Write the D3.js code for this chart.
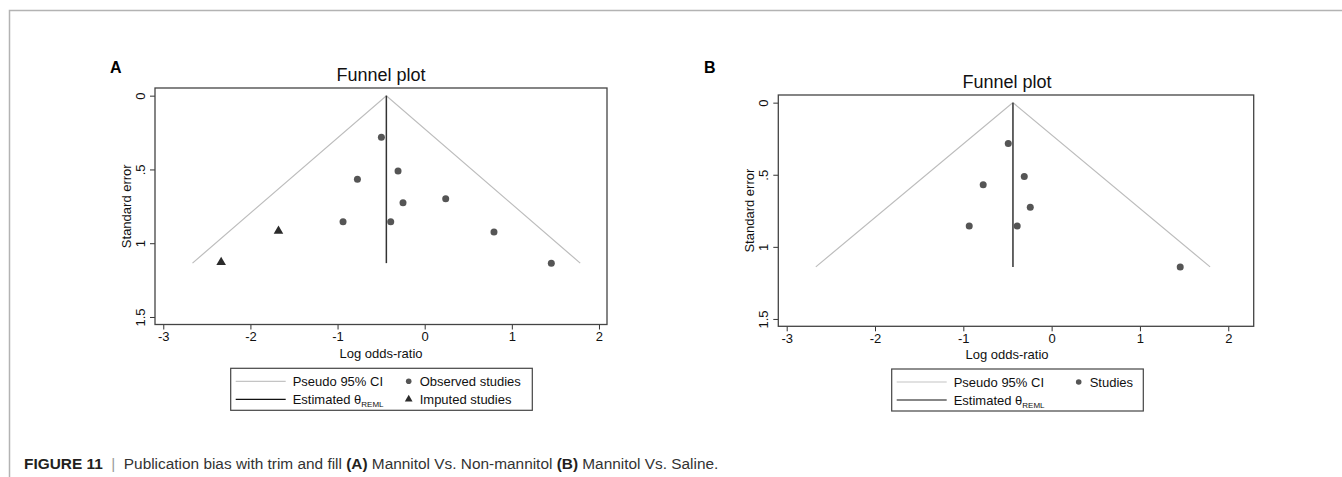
<!DOCTYPE html>
<html>
<head>
<meta charset="utf-8">
<script src="https://cdn.jsdelivr.net/npm/d3@7"></script>
<style>
  body { margin: 0; background: #fff; }
  svg text { font-family: "Liberation Sans", Arial, Helvetica, sans-serif; }
</style>
</head>
<body>
<script>
'use strict';

// tick values and labels shared by both panels
const xTicks = [-3, -2, -1, 0, 1, 2];
const yTicks = [0, 0.5, 1, 1.5];
const yTickLabels = ["0", ".5", "1", "1.5"];

// panel A: observed and imputed studies (log odds-ratio, standard error)
const obsALor = [-0.497, -0.306, -0.772, -0.249, 0.241, -0.937, -0.390, 0.795, 1.453];
const obsASe = [0.282, 0.510, 0.567, 0.725, 0.698, 0.854, 0.854, 0.924, 1.135];
const impALor = [-1.678, -2.336];
const impASe = [0.917, 1.129];

// panel B: studies
const obsBLor = [-0.491, -0.310, -0.775, -0.242, -0.933, -0.390, 1.456];
const obsBSe = [0.284, 0.513, 0.569, 0.726, 0.855, 0.855, 1.139];

// pooled estimate and funnel extent
const thetaA = -0.44;
const thetaB = -0.438;
const seMaxA = 1.135;
const seMaxB = 1.139;
const ciZ = 1.96;

const legendA = [["Pseudo 95% CI", "ci"], ["Observed studies", "circle"], ["Estimated θ", "theta"], ["Imputed studies", "triangle"]];
const legendB = [["Pseudo 95% CI", "ci"], ["Studies", "circle"], ["Estimated θ", "theta"]];

const caption = [
  ["FIGURE 11", "bold", "#231f20"],
  ["  |  ", "normal", "#999"],
  ["Publication bias with trim and fill ", "normal", "#333"],
  ["(A)", "bold", "#231f20"],
  [" Mannitol Vs. Non-mannitol ", "normal", "#333"],
  ["(B)", "bold", "#231f20"],
  [" Mannitol Vs. Saline.", "normal", "#333"]
];

const svg = d3.select('body').append('svg')
  .attr('width', 1342)
  .attr('height', 477);

// outer frame (top and left rules)
svg.append('path')
  .attr('d', 'M9.5,477 V10.5 H1342')
  .attr('fill', 'none')
  .attr('stroke', '#b3b3b3')
  .attr('stroke-width', 1.5);

function drawPanel(cfg) {
  const g = svg.append('g');
  const x = d3.scaleLinear().domain(cfg.xDomain).range([cfg.left, cfg.right]);
  const y = d3.scaleLinear().domain(cfg.yDomain).range([cfg.top, cfg.bottom]);

  // panel letter
  g.append('text')
    .attr('x', cfg.letterX).attr('y', cfg.letterY)
    .style('font-size', '16px').style('font-weight', 'bold')
    .text(cfg.letter);

  // title
  g.append('text')
    .attr('x', cfg.titleX).attr('y', cfg.top - 7)
    .attr('text-anchor', 'middle')
    .style('font-size', '18px').attr('fill', '#111')
    .text('Funnel plot');

  // x axis
  const xAxis = d3.axisBottom(x).tickValues(xTicks).tickSize(5).tickPadding(2)
    .tickFormat(d3.format('d'));
  const gx = g.append('g')
    .attr('transform', 'translate(0,' + cfg.bottom + ')')
    .call(xAxis);
  gx.select('.domain').remove();
  gx.selectAll('line').attr('stroke', '#333');
  gx.selectAll('text').style('font-size', '13px').attr('fill', '#111')
    .text(d => d < 0 ? '-' + Math.abs(d) : d);

  // y axis
  const yAxis = d3.axisLeft(y).tickValues(yTicks).tickSize(5).tickPadding(3)
    .tickFormat((d, i) => yTickLabels[i]);
  const gy = g.append('g')
    .attr('transform', 'translate(' + cfg.left + ',0)')
    .call(yAxis);
  gy.select('.domain').remove();
  gy.selectAll('line').attr('stroke', '#333');
  gy.selectAll('text')
    .style('font-size', '13px').attr('fill', '#111')
    .attr('x', null).attr('dy', null)
    .attr('text-anchor', 'middle')
    .attr('transform', 'translate(-10,0) rotate(-90)')
    .attr('y', 0);

  // plot region box
  g.append('rect')
    .attr('x', cfg.left).attr('y', cfg.top)
    .attr('width', cfg.right - cfg.left).attr('height', cfg.bottom - cfg.top)
    .attr('fill', 'none').attr('stroke', '#444').attr('stroke-width', 1.3);

  // axis titles
  g.append('text')
    .attr('x', cfg.titleX).attr('y', cfg.bottom + 33)
    .attr('text-anchor', 'middle')
    .style('font-size', '13px').attr('fill', '#111')
    .text('Log odds-ratio');
  g.append('text')
    .attr('transform', 'translate(' + (cfg.left - 24) + ',' + ((cfg.top + cfg.bottom) / 2) + ') rotate(-90)')
    .attr('text-anchor', 'middle')
    .style('font-size', '13px').attr('fill', '#111')
    .text('Standard error');

  // pseudo 95% CI funnel
  const funnel = [
    { lor: cfg.theta - ciZ * cfg.seMax, se: cfg.seMax },
    { lor: cfg.theta, se: 0 },
    { lor: cfg.theta + ciZ * cfg.seMax, se: cfg.seMax }
  ];
  g.append('path')
    .datum(funnel)
    .attr('fill', 'none').attr('stroke', '#bdbdbd').attr('stroke-width', 1.2)
    .attr('d', d3.line().x(d => x(d.lor)).y(d => y(d.se)));

  // estimated theta
  g.append('line')
    .attr('x1', x(cfg.theta)).attr('x2', x(cfg.theta))
    .attr('y1', y(0)).attr('y2', y(cfg.seMax))
    .attr('stroke', '#333').attr('stroke-width', 1.5);

  // observed studies
  g.selectAll('circle.obs')
    .data(cfg.lor.map((v, i) => ({ lor: v, se: cfg.se[i] })))
    .enter().append('circle')
    .attr('class', 'obs')
    .attr('cx', d => x(d.lor)).attr('cy', d => y(d.se))
    .attr('r', 3.5).attr('fill', '#555');

  // imputed studies
  if (cfg.impLor) {
    g.selectAll('path.imp')
      .data(cfg.impLor.map((v, i) => ({ lor: v, se: cfg.impSe[i] })))
      .enter().append('path')
      .attr('class', 'imp')
      .attr('d', d3.symbol(d3.symbolTriangle, 40))
      .attr('transform', d => 'translate(' + x(d.lor) + ',' + y(d.se) + ')')
      .attr('fill', '#2b2b2b');
  }

  // legend
  const lg = g.append('g');
  lg.append('rect')
    .attr('x', cfg.legX).attr('y', cfg.legY)
    .attr('width', cfg.legW).attr('height', 42)
    .attr('fill', '#fff').attr('stroke', '#444').attr('stroke-width', 1.2);
  cfg.legend.forEach((item, i) => {
    const col = i % 2;
    const row = Math.floor(i / 2);
    const cy = cfg.legY + 13 + row * 18;
    const kx = col === 0 ? cfg.legX + 5 : cfg.legX + cfg.markOff;
    const tx = col === 0 ? cfg.legX + 62 : cfg.legX + cfg.markOff + 11;
    if (item[1] === 'ci' || item[1] === 'theta') {
      lg.append('line')
        .attr('x1', kx).attr('x2', kx + 50).attr('y1', cy).attr('y2', cy)
        .attr('stroke', item[1] === 'ci' ? '#c4c4c4' : '#111').attr('stroke-width', 1.2);
    } else if (item[1] === 'circle') {
      lg.append('circle').attr('cx', kx).attr('cy', cy).attr('r', 2.8).attr('fill', '#555');
    } else {
      lg.append('path').attr('d', d3.symbol(d3.symbolTriangle, 26))
        .attr('transform', 'translate(' + kx + ',' + cy + ')').attr('fill', '#2b2b2b');
    }
    const t = lg.append('text')
      .attr('x', tx).attr('y', cy + 4.5)
      .style('font-size', '13px').attr('fill', '#111')
      .text(item[0]);
    if (item[1] === 'theta') {
      t.append('tspan').attr('dy', 3).style('font-size', '8px').text('REML');
    }
  });
}

drawPanel({
  letter: 'A', letterX: 110, letterY: 73,
  left: 155, right: 607, top: 88, bottom: 324.5,
  xDomain: [-3.095, 2.092], yDomain: [-0.052, 1.551],
  titleX: 381,
  theta: thetaA, seMax: seMaxA,
  lor: obsALor, se: obsASe, impLor: impALor, impSe: impASe,
  legend: legendA, legX: 230.7, legY: 368.3, legW: 301.6, markOff: 178
});

drawPanel({
  letter: 'B', letterX: 704, letterY: 73,
  left: 778.3, right: 1253.7, top: 95, bottom: 326.3,
  xDomain: [-3.095, 2.288], yDomain: [-0.053, 1.551],
  titleX: 1007,
  theta: thetaB, seMax: seMaxB,
  lor: obsBLor, se: obsBSe,
  legend: legendB, legX: 891.7, legY: 369, legW: 251.6, markOff: 187
});

// figure caption
const cap = svg.append('text')
  .attr('x', 24).attr('y', 469)
  .style('font-size', '15.4px')
  .attr('xml:space', 'preserve');
caption.forEach(c => {
  cap.append('tspan')
    .style('font-weight', c[1]).attr('fill', c[2])
    .text(c[0]);
});
</script>
</body>
</html>
